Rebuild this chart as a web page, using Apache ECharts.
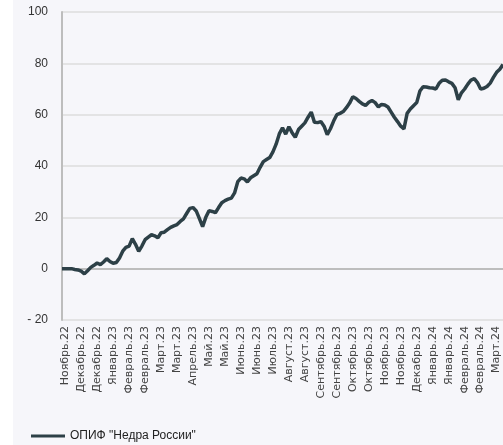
<!DOCTYPE html>
<html lang="ru">
<head>
    <meta charset="utf-8"/>
    <title>ОПИФ "Недра России"</title>
    <script src="https://cdn.jsdelivr.net/npm/echarts@6/dist/echarts.min.js"></script>
    <style>
        html, body { margin: 0; padding: 0; }
        #fund {
            width: 503px; height: 445px;
            background: linear-gradient(to right, #ffffff 13px, #f6f6fa 13px);
        }
    </style>
</head>
<body>
<div id="fund"></div>
<script>
    // подписи оси X (каждая 5-я точка, начиная с 1-й)
    const monthLabels = [
        'Ноябрь.22', 'Декабрь.22', 'Декабрь.22', 'Январь.23', 'Февраль.23', 'Февраль.23',
        'Март.23', 'Март.23', 'Апрель.23', 'Май.23', 'Май.23', 'Июнь.23', 'Июнь.23',
        'Июль.23', 'Август.23', 'Август.23', 'Сентябрь.23', 'Сентябрь.23', 'Октябрь.23',
        'Октябрь.23', 'Ноябрь.23', 'Ноябрь.23', 'Декабрь.23', 'Январь.24', 'Январь.24',
        'Февраль.24', 'Февраль.24', 'Март.24'
    ];
    const yTicks = [-20, 0, 20, 40, 60, 80, 100];
    const seriesName = 'ОПИФ "Недра России"';
    // доходность, %
    const fundValues = [
        0, 0, 0, 0, -0.3, -0.5, -1, -2, -0.8, 0.5,
        1.3, 2.2, 1.6, 2.6, 3.9, 2.8, 2.1, 2.4, 4.2, 6.8,
        8.3, 8.8, 11.7, 9.5, 6.8, 8.8, 11.3, 12.3, 13.2, 12.8,
        12, 14, 14.2, 15.2, 16.1, 16.7, 17.2, 18.4, 19.4, 21.5,
        23.5, 23.8, 22.5, 19.5, 16.4, 20, 22.6, 22.3, 21.8, 23.8,
        25.7, 26.5, 27.1, 27.5, 29.5, 33.9, 35.3, 35, 33.8, 35.4,
        36.2, 37, 39.5, 41.7, 42.5, 43.3, 45.5, 48.5, 52.5, 54.9,
        52.4, 55.3, 53, 51.2, 54.2, 55.5, 56.8, 59, 61, 57,
        56.9, 57.3, 55.5, 52.2, 54.5, 57.5, 60, 60.5, 61.2, 62.7,
        64.5, 67, 66.3, 65.2, 64.2, 63.6, 64.8, 65.5, 64.7, 63,
        64, 63.8, 63, 61, 59, 57.3, 55.5, 54.5, 60.5, 62.2,
        63.5, 64.7, 69.2, 70.9, 70.8, 70.5, 70.4, 70, 72.2, 73.4,
        73.5, 72.8, 72.2, 70.5, 65.8, 68.5, 70, 71.9, 73.5, 74,
        72.5, 70, 70.3, 71, 72.3, 74.5, 76.5, 77.7, 79.5
    ];
    const labelStep = 5, labelStart = 1;

    const chart = echarts.init(document.getElementById('fund'), null, { renderer: 'canvas' });
    const categories = fundValues.map((v, i) => String(i));

    const option = {
        backgroundColor: 'transparent',
        animation: false,
        grid: { left: 62, right: 0, top: 12, bottom: 125, containLabel: false },
        legend: {
            left: 26, bottom: -2,
            itemWidth: 34, itemHeight: 3,
            icon: 'rect',
            textStyle: { fontFamily: 'Liberation Sans', fontSize: 12, color: '#222' },
            data: [seriesName]
        },
        xAxis: {
            type: 'category',
            boundaryGap: false,
            data: categories,
            axisLine: { lineStyle: { color: '#bdbdbd', width: 2 } },
            axisTick: { show: false },
            splitLine: { show: false },
            axisLabel: {
                rotate: 90,
                margin: 6,
                fontFamily: 'DejaVu Sans',
                fontSize: 11,
                color: '#444',
                interval: (idx) => idx >= labelStart && (idx - labelStart) % labelStep === 0,
                formatter: (val, idx) => monthLabels[(idx - labelStart) / labelStep] || ''
            }
        },
        yAxis: {
            type: 'value',
            min: yTicks[0],
            max: yTicks[yTicks.length - 1],
            interval: 20,
            axisLine: { show: true, lineStyle: { color: '#bdbdbd', width: 2 } },
            axisTick: { show: false },
            splitLine: { lineStyle: { color: '#dcdcdc', width: 1.5 } },
            axisLabel: {
                margin: 14,
                fontFamily: 'Liberation Sans',
                fontSize: 12,
                color: '#333',
                formatter: (v) => v < 0 ? '- ' + Math.abs(v) : String(v)
            }
        },
        series: [{
            name: seriesName,
            type: 'line',
            data: fundValues,
            showSymbol: false,
            lineStyle: { color: '#2d4047', width: 3.5 },
            itemStyle: { color: '#2d4047' }
        }]
    };
    chart.setOption(option);
</script>
</body>
</html>
